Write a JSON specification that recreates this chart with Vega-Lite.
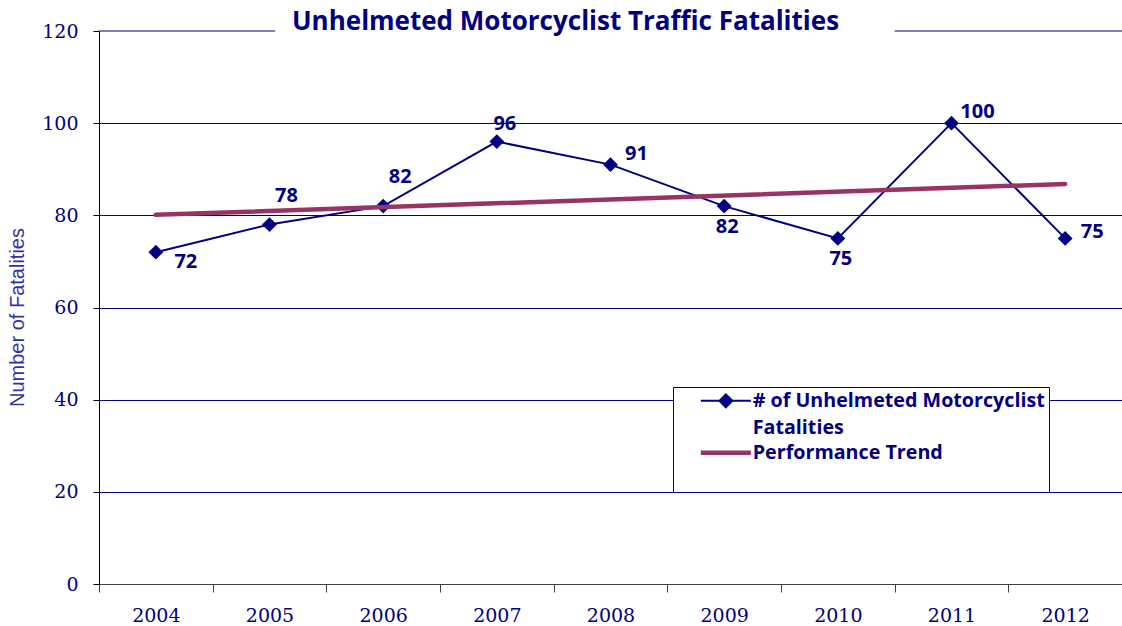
{
  "$schema": "https://vega.github.io/schema/vega-lite/v6.json",
  "width": 1023,
  "height": 553,
  "autosize": {"type": "none"},
  "padding": {"left": 99, "top": 31, "right": 0, "bottom": 42},
  "background": "white",
  "title": {
    "text": "Unhelmeted Motorcyclist Traffic Fatalities",
    "anchor": "middle",
    "frame": "group",
    "dx": -45,
    "baseline": "alphabetic",
    "offset": -34,
    "font": "Open Sans",
    "fontSize": 26,
    "fontWeight": "bold",
    "color": "#000080"
  },
  "config": {"view": {"stroke": null}},
  "datasets": {
    "fatalities": [
      {"year": "2004", "fatalities": 72},
      {"year": "2005", "fatalities": 78},
      {"year": "2006", "fatalities": 82},
      {"year": "2007", "fatalities": 96},
      {"year": "2008", "fatalities": 91},
      {"year": "2009", "fatalities": 82},
      {"year": "2010", "fatalities": 75},
      {"year": "2011", "fatalities": 100},
      {"year": "2012", "fatalities": 75}
    ],
    "trend": [
      {"year": "2004", "trend": 80.1},
      {"year": "2012", "trend": 86.8}
    ],
    "topgrid": [
      {"level": 120, "from": "2004", "to": "2005"},
      {"level": 120, "from": "2011", "to": "2012"}
    ]
  },
  "layer": [
    {
      "data": {"name": "fatalities"},
      "mark": {"type": "line", "strokeWidth": 2},
      "encoding": {
        "x": {
          "field": "year", "type": "ordinal",
          "scale": {"domain": ["2004","2005","2006","2007","2008","2009","2010","2011","2012"], "paddingInner": 0, "paddingOuter": 0},
          "axis": {
            "title": null, "labelAngle": 0, "tickBand": "extent", "tickColor": "#404040", "tickSize": 8,
            "domainColor": "#404040", "labelFont": "DejaVu Serif", "labelFontSize": 19, "labelColor": "#000080",
            "labelPadding": 14, "grid": false
          }
        },
        "y": {
          "field": "fatalities", "type": "quantitative",
          "scale": {"domain": [0, 120], "nice": false},
          "axis": {
            "values": [0, 20, 40, 60, 80, 100, 120], "grid": true, "gridColor": "#000080", "gridWidth": 1,
            "gridOpacity": {"condition": {"test": "datum.value === 120", "value": 0}, "value": 1},
            "domainColor": "#000000", "tickColor": "#000000", "tickSize": 6,
            "labelFont": "DejaVu Serif", "labelFontSize": 19, "labelColor": "#000080", "labelPadding": 15,
            "title": "Number of Fatalities", "titleFont": "Liberation Sans", "titleFontSize": 20, "titleFontWeight": "normal",
            "titleColor": "#3333a0", "titleX": -82, "titleY": 286, "titleAngle": -90, "titleBaseline": "middle", "titleAlign": "center"
          }
        },
        "color": {
          "datum": "# of Unhelmeted Motorcyclist Fatalities", "type": "nominal",
          "scale": {"domain": ["# of Unhelmeted Motorcyclist Fatalities", "Performance Trend"], "range": ["#000080", "#993366"]},
          "legend": {
            "title": " ", "titleOrient": "bottom", "titleFontSize": 12, "titlePadding": 14,
            "orient": "none", "legendX": 574, "legendY": 356, "direction": "vertical",
            "fillColor": "white", "strokeColor": "#000080", "padding": 4, "symbolOffset": 39,
            "symbolSize": 2500, "symbolType": "stroke",
            "labelFont": "Open Sans", "labelFontSize": 19.7, "labelFontWeight": "bold", "labelColor": "#000080",
            "labelOffset": 17, "labelLimit": 400, "rowPadding": 4,
            "labelExpr": "datum.value === 'Performance Trend' ? 'Performance Trend' : ['# of Unhelmeted Motorcyclist', 'Fatalities']",
            "encode": {
              "symbols": {"update": {
                "shape": {"signal": "datum.value === 'Performance Trend' ? 'stroke' : 'M-1,0H1M-0.26,0L0,-0.26L0.26,0L0,0.26Z'"},
                "fill": {"signal": "datum.value === 'Performance Trend' ? 'transparent' : '#000080'"},
                "strokeWidth": {"signal": "datum.value === 'Performance Trend' ? 4.5 : 2"}
              }},
              "labels": {"update": {"lineHeight": {"value": 27}}}
            }
          }
        }
      }
    },
    {
      "data": {"name": "fatalities"},
      "mark": {"type": "point", "shape": "diamond", "filled": true, "size": 220, "color": "#000080", "opacity": 1},
      "encoding": {
        "x": {"field": "year", "type": "ordinal"},
        "y": {"field": "fatalities", "type": "quantitative"}
      }
    },
    {
      "data": {"name": "trend"},
      "mark": {"type": "line", "strokeWidth": 4.5, "strokeCap": "round"},
      "encoding": {
        "x": {"field": "year", "type": "ordinal"},
        "y": {"field": "trend", "type": "quantitative"},
        "color": {"datum": "Performance Trend", "type": "nominal"}
      }
    },
    {
      "data": {"name": "fatalities"},
      "transform": [{"filter": {"field": "year", "oneOf": ["2004"]}}],
      "mark": {"type": "text", "font": "Open Sans", "fontSize": 20, "fontWeight": "bold", "color": "#000080", "dx": 30, "dy": 10},
      "encoding": {"x": {"field": "year", "type": "ordinal"}, "y": {"field": "fatalities", "type": "quantitative"}, "text": {"field": "fatalities"}}
    },
    {
      "data": {"name": "fatalities"},
      "transform": [{"filter": {"field": "year", "oneOf": ["2005", "2006"]}}],
      "mark": {"type": "text", "font": "Open Sans", "fontSize": 20, "fontWeight": "bold", "color": "#000080", "dx": 17, "dy": -29},
      "encoding": {"x": {"field": "year", "type": "ordinal"}, "y": {"field": "fatalities", "type": "quantitative"}, "text": {"field": "fatalities"}}
    },
    {
      "data": {"name": "fatalities"},
      "transform": [{"filter": {"field": "year", "oneOf": ["2007"]}}],
      "mark": {"type": "text", "font": "Open Sans", "fontSize": 20, "fontWeight": "bold", "color": "#000080", "dx": 8, "dy": -18},
      "encoding": {"x": {"field": "year", "type": "ordinal"}, "y": {"field": "fatalities", "type": "quantitative"}, "text": {"field": "fatalities"}}
    },
    {
      "data": {"name": "fatalities"},
      "transform": [{"filter": {"field": "year", "oneOf": ["2008", "2011"]}}],
      "mark": {"type": "text", "font": "Open Sans", "fontSize": 20, "fontWeight": "bold", "color": "#000080", "dx": 26, "dy": -11},
      "encoding": {"x": {"field": "year", "type": "ordinal"}, "y": {"field": "fatalities", "type": "quantitative"}, "text": {"field": "fatalities"}}
    },
    {
      "data": {"name": "fatalities"},
      "transform": [{"filter": {"field": "year", "oneOf": ["2012"]}}],
      "mark": {"type": "text", "font": "Open Sans", "fontSize": 20, "fontWeight": "bold", "color": "#000080", "dx": 27, "dy": -6},
      "encoding": {"x": {"field": "year", "type": "ordinal"}, "y": {"field": "fatalities", "type": "quantitative"}, "text": {"field": "fatalities"}}
    },
    {
      "data": {"name": "fatalities"},
      "transform": [{"filter": {"field": "year", "oneOf": ["2009", "2010"]}}],
      "mark": {"type": "text", "font": "Open Sans", "fontSize": 20, "fontWeight": "bold", "color": "#000080", "dx": 3, "dy": 21},
      "encoding": {"x": {"field": "year", "type": "ordinal"}, "y": {"field": "fatalities", "type": "quantitative"}, "text": {"field": "fatalities"}}
    },
    {
      "data": {"name": "topgrid"},
      "transform": [{"filter": {"field": "from", "oneOf": ["2004"]}}],
      "mark": {"type": "rule", "color": "#000080", "strokeWidth": 1},
      "encoding": {
        "x": {"field": "from", "type": "ordinal", "bandPosition": 0},
        "x2": {"field": "to", "bandPosition": 0.55},
        "y": {"field": "level", "type": "quantitative"}
      }
    },
    {
      "data": {"name": "topgrid"},
      "transform": [{"filter": {"field": "from", "oneOf": ["2011"]}}],
      "mark": {"type": "rule", "color": "#000080", "strokeWidth": 1},
      "encoding": {
        "x": {"field": "from", "type": "ordinal", "bandPosition": 0},
        "x2": {"field": "to", "bandPosition": 1},
        "y": {"field": "level", "type": "quantitative"}
      }
    }
  ]
}
